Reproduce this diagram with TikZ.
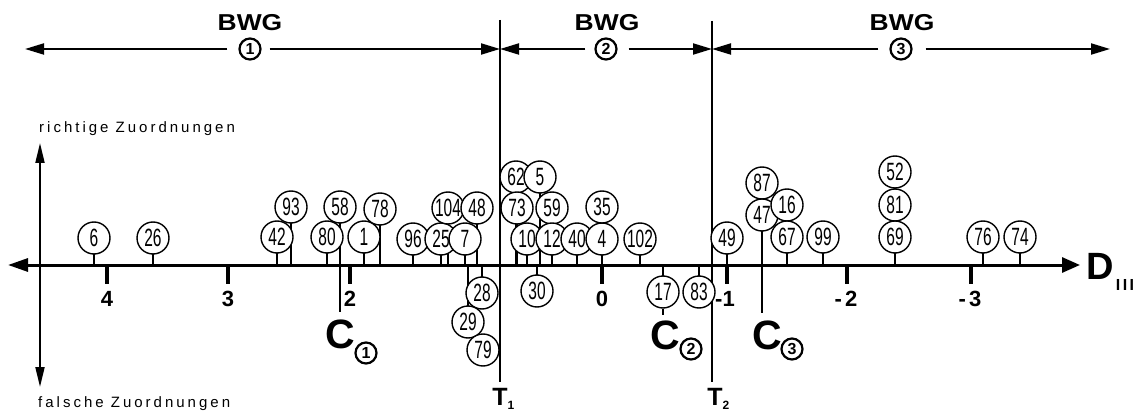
\documentclass[tikz,border=0pt]{standalone}
\usepackage{fontspec}
\setmainfont{Liberation Sans}
\newfontfamily\bubfont[FakeStretch=0.62]{Liberation Sans}
\newfontfamily\wbfont[FakeStretch=1.15]{Liberation Sans}
\newfontfamily\spfont[LetterSpace=20]{Liberation Sans}
\usetikzlibrary{arrows.meta}
\pgfdeclarelayer{bg}
\pgfsetlayers{bg,main}
\tikzset{
  bub/.style={circle, draw, line width=1.4pt, fill=white, minimum size=32pt, inner sep=0pt,
    font=\bubfont\fontsize{25}{25}\selectfont},
  stem/.style={line width=1.5pt},
  ticksty/.style={line width=3.5pt},
  ticklab/.style={inner sep=0pt, font=\bfseries\fontsize{22}{22}\selectfont},
  cline/.style={line width=2.2pt},
  circnum/.style={circle, draw, line width=2.2pt, fill=white, minimum size=21pt, inner sep=0pt,
    font=\bfseries\fontsize{16}{16}\selectfont},
  bwglab/.style={inner sep=0pt, font=\wbfont\bfseries\fontsize{23}{23}\selectfont},
  barrow/.style={line width=2pt, -{Triangle[length=19pt,width=11pt]}},
  tline/.style={line width=1.6pt},
  clab/.style={inner sep=0pt, font=\bfseries\fontsize{41}{41}\selectfont},
  tlab/.style={inner sep=0pt, font=\bfseries\fontsize{25}{25}\selectfont},
  tsub/.style={inner sep=0pt, font=\bfseries\fontsize{12}{12}\selectfont},
  sidelab/.style={inner sep=0pt, anchor=base west, font=\spfont\fontsize{15}{15}\selectfont}
}
\begin{document}
\begin{tikzpicture}[x=1pt,y=-1pt]
\useasboundingbox (0,0) rectangle (1145,414);

% axis coordinates
\coordinate (axL) at (8,265);
\coordinate (axR) at (1080,265);

% T lines
\coordinate (T1top) at (500,20);
\coordinate (T2top) at (712,21);
\node[tlab] (T1) at (500,397) {T};
\node[tsub] (T1s) at (511,405) {1};
\node[tlab] (T2) at (715,397) {T};
\node[tsub] (T2s) at (726,405) {2};
\draw[tline, shorten >=6pt] (T1top) -- (T1top |- T1.north);
\draw[tline, shorten >=6pt] (T2top) -- (T2top |- T2.north);

% BWG arrows
\node[bwglab] (BWG1) at (250,23) {BWG};
\node[bwglab] (BWG2) at (607,23) {BWG};
\node[bwglab] (BWG3) at (902,23) {BWG};
\node[circnum] (bw1) at (250,49) {1};
\node[circnum] (bw2) at (606,49) {2};
\node[circnum] (bw3) at (901,49) {3};
\coordinate (a1L) at (25,49);
\coordinate (p1) at (500,49);
\coordinate (p2) at (712,49);
\coordinate (a3R) at (1110,49);
\draw[barrow, shorten <=11pt] (bw1.west) -- (a1L);
\draw[barrow, shorten <=8pt] (bw1.east) -- (p1);
\draw[barrow, shorten <=9pt] (bw2.west) -- (p1);
\draw[barrow, shorten <=11pt] (bw2.east) -- (p2);
\draw[barrow, shorten <=11pt] (bw3.west) -- (p2);
\draw[barrow, shorten <=13pt] (bw3.east) -- (a3R);

% side arrow and labels
\node[sidelab] (rich) at (39,133) {richtige Zuordnungen};
\node[sidelab] (fals) at (38,407) {falsche Zuordnungen};
\coordinate (vU) at (40,143);
\coordinate (vD) at (40,387);
\draw[line width=2pt, {Triangle[length=20pt,width=9pt]}-{Triangle[length=20pt,width=9pt]}] (vU) -- (vD);

% main axis
\node[inner sep=0pt, font=\bfseries\fontsize{38}{38}\selectfont] (D) at (1100,266) {D};
\node[inner sep=0pt, font=\bfseries\fontsize{16}{16}\selectfont] (Dsub) at (1125,285) {I\kern2.5pt I\kern2.5pt I};
\draw[line width=3pt, {Triangle[length=20pt,width=13pt]}-{Triangle[length=18pt,width=15pt]}] (axL) -- (axR);

% ticks and labels
\foreach \x in {107,228,350,602,727,847,971}
  \draw[ticksty] (\x,265) -- (\x,284);
\node[ticklab] (l4) at (107,299) {4};
\node[ticklab] (l3) at (228,299) {3};
\node[ticklab] (l2) at (350,299) {2};
\node[ticklab] (l0) at (602,299) {0};
\node[ticklab] (lm1) at (725,299) {-1};
\node[ticklab] (lm2) at (846,299) {-\hspace{3pt}2};
\node[ticklab] (lm3) at (970,299) {-\hspace{3pt}3};

% bubbles with stems
\foreach \n/\x/\y in {6/94/238, 26/153/238, 42/277/237, 93/291/207, 80/327/237, 58/340/207,
  1/364/237, 78/380/209, 96/413/239, 25/441/239, 104/448/208, 48/477/208, 7/465/239,
  62/516/177, 5/540/177, 73/517/208, 59/552/208, 10/527/239, 12/552/239, 40/577/239,
  4/602/239, 35/602/207, 102/640/239, 49/727/238, 87/762/183, 47/762/215, 16/787/205,
  67/787/237, 99/823/237, 52/895/172, 81/895/205, 69/895/237, 76/983/237, 74/1020/237,
  28/482/293, 29/468/322, 30/537/291, 17/663/292, 83/699/292}{
  \node[bub] (b\n) at (\x,\y) {\n};
  \begin{pgfonlayer}{bg}
    \draw[stem] (b\n.center) -- (b\n.center |- axL);
  \end{pgfonlayer}
}
\node[bub] (b79) at (483,350) {79};

% C markers
\node[clab] (C1) at (340,334) {C};
\node[circnum, minimum size=21pt] (C1s) at (366,353) {1};
\node[clab] (C2) at (665,335) {C};
\node[circnum, minimum size=21pt] (C2s) at (691,349) {2};
\node[clab] (C3) at (767,335) {C};
\node[circnum, minimum size=21pt] (C3s) at (792,349) {3};
\begin{pgfonlayer}{bg}
  \draw[cline, shorten >=7pt] (b58.center) -- (b58.center |- C1.north);
  \draw[cline, shorten >=5pt] (b17.south) -- (b17.south |- C2.north);
  \draw[cline, shorten >=7pt] (b47.south) -- (b47.south |- C3.north);
\end{pgfonlayer}
\end{tikzpicture}
\end{document}
